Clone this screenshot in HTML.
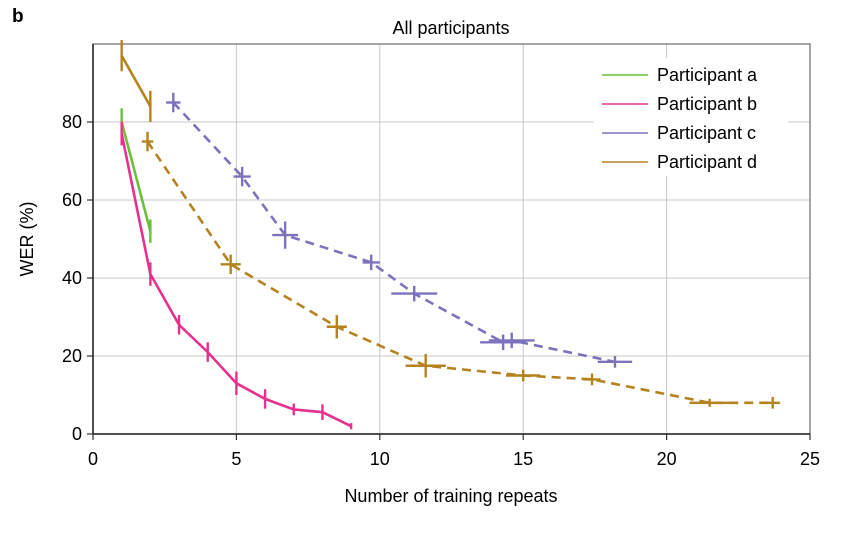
<!DOCTYPE html>
<html><head><meta charset="utf-8"><style>
html,body{margin:0;padding:0;background:#fff;}
svg{display:block;font-family:"Liberation Sans",Arial,sans-serif;}
</style></head><body>
<svg id="chart" width="861" height="538" viewBox="0 0 861 538" xmlns="http://www.w3.org/2000/svg">
<text x="12" y="22" font-size="19" font-weight="bold">b</text>
<text x="451" y="34" font-size="18" text-anchor="middle">All participants</text>
<g id="grid"></g>
<g id="axes"></g>
<g id="series"></g>
<g id="legend"></g>
<text x="451" y="502" font-size="18" text-anchor="middle">Number of training repeats</text>
<text transform="translate(33,239) rotate(-90)" font-size="18" text-anchor="middle">WER (%)</text>
</svg>
<script>
const xTicks=[0,5,10,15,20,25];
const yTicks=[0,20,40,60,80];
const aX=[1,2], aY=[80,52], aEx=[0,0], aEy=[3.5,3];
const bX=[1,2,3,4,5,6,7,8,9], bY=[77,41,28,21,13,9,6.3,5.6,2], bEx=[0,0,0,0,0,0,0,0,0], bEy=[3,3,2.5,2.5,3,2.5,1.5,2,0.8];
const dsX=[1,2], dsY=[97,84], dsEx=[0,0], dsEy=[4,4];
const cX=[2.8,5.2,6.7,9.7,11.2,14.3,14.6,18.2], cY=[85,66,51,44,36,23.5,24,18.5], cEx=[0.25,0.3,0.45,0.3,0.8,0.8,0.8,0.6], cEy=[2.5,2.5,3.5,2,2,2,2,1.5];
const ddX=[1.9,4.8,8.5,11.6,15,17.4,21.5,23.7], ddY=[75,43.5,27.5,17.5,15,14,8,8], ddEx=[0.2,0.35,0.35,0.7,0.6,0.3,0.7,0.25], ddEy=[2.5,2.5,3,3,1.5,1.5,1,1.5];
const legendLabels=["Participant a","Participant b","Participant c","Participant d"];
const legendColors=["#6bbf3a","#e5318f","#7b74bd","#b5821e"];

const X0=93,X1=810,Y0=434,Y1=44;
const sx=v=>X0+(X1-X0)*v/25;
const sy=v=>Y0-(Y0-Y1)*v/100;
const NS="http://www.w3.org/2000/svg";
function mk(tag,attrs,parent){const e=document.createElementNS(NS,tag);for(const k in attrs)e.setAttribute(k,attrs[k]);parent.appendChild(e);return e;}
const grid=document.getElementById('grid'),axes=document.getElementById('axes'),series=document.getElementById('series'),legend=document.getElementById('legend');
xTicks.forEach(t=>{
  if(t>0&&t<25){const l=mk('line',{x1:sx(t),x2:sx(t),y1:Y1,y2:Y0,stroke:'#c8c8c8','stroke-width':1},grid);
  
  }
  const tk=mk('line',{x1:sx(t),x2:sx(t),y1:Y0,y2:Y0+6,stroke:'#333','stroke-width':1.2},axes);
  
  
  const tx=mk('text',{x:sx(t),y:Y0+31,'font-size':18,'text-anchor':'middle'},axes);tx.textContent=t;
  
  
});
yTicks.forEach(t=>{
  if(t>0){const l=mk('line',{x1:X0,x2:X1,y1:sy(t),y2:sy(t),stroke:'#c8c8c8','stroke-width':1},grid);
  
  }
  const tk=mk('line',{x1:X0-6,x2:X0,y1:sy(t),y2:sy(t),stroke:'#333','stroke-width':1.2},axes);
  
  
  const tx=mk('text',{x:X0-11,y:sy(t)+6,'font-size':18,'text-anchor':'end'},axes);tx.textContent=t;
  
  
});
const frame=mk('rect',{x:X0,y:Y1,width:X1-X0,height:Y0-Y1,fill:'none',stroke:'#777','stroke-width':1.3},axes);


const xAxisLine=mk('line',{x1:X0,x2:X1,y1:Y0,y2:Y0,stroke:'#222','stroke-width':1.5},axes);


const yAxisLine=mk('line',{x1:X0,x2:X0,y1:Y1,y2:Y0,stroke:'#222','stroke-width':1.5},axes);



function drawSeries(xs,ys,ex,ey,color,dash,name){
  const g=mk('g',{},series);
  
  
  const pts=xs.map((x,i)=>sx(x)+','+sy(ys[i])).join(' ');
  const pl=mk('polyline',{points:pts,fill:'none',stroke:color,'stroke-width':2.6,'stroke-dasharray':dash?'9,6':'none'},g);
  
  
  xs.forEach((x,i)=>{
    const v=mk('line',{x1:sx(x),x2:sx(x),y1:sy(ys[i]-ey[i]),y2:sy(ys[i]+ey[i]),stroke:color,'stroke-width':2.4},g);
    
    
    if(ex[i]>0){const h=mk('line',{x1:sx(x-ex[i]),x2:sx(x+ex[i]),y1:sy(ys[i]),y2:sy(ys[i]),stroke:color,'stroke-width':2.4},g);
    
    }
  });
}
drawSeries(ddX,ddY,ddEx,ddEy,legendColors[3],true,'participant-d-dashed');
drawSeries(cX,cY,cEx,cEy,legendColors[2],true,'participant-c');
drawSeries(dsX,dsY,dsEx,dsEy,legendColors[3],false,'participant-d-solid');
drawSeries(aX,aY,aEx,aEy,legendColors[0],false,'participant-a');
drawSeries(bX,bY,bEx,bEy,legendColors[1],false,'participant-b');

const bg=mk('rect',{x:594,y:58,width:194,height:118,fill:'#fff'},legend);


legendLabels.forEach((lab,i)=>{
  const y=75+i*29;
  const g=mk('g',{},legend);
  
  
  mk('line',{x1:602,x2:648,y1:y,y2:y,stroke:legendColors[i],'stroke-width':1.4},g);
  const t=mk('text',{x:657,y:y+6,'font-size':18},g);t.textContent=lab;
});
</script>
</body></html>
